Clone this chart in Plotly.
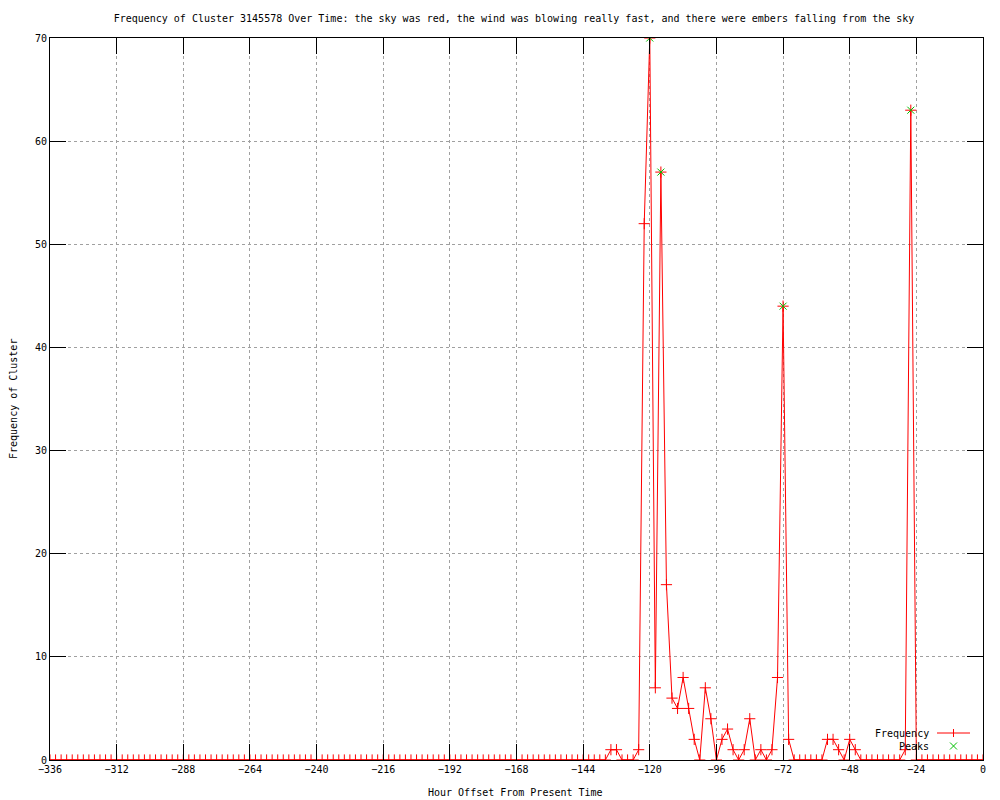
import plotly.graph_objects as go

# Hour offsets (every 2 hours from -336 to 0)
hours = list(range(-336, 1, 2))

# Non-zero frequency readings from the chart (hour -> value); all other hours are 0
readings_hours = [-134, -132, -124, -122, -120, -118, -116, -114, -112, -110, -108, -106, -104,
                  -100, -98, -94, -92, -90, -86, -84, -80, -76, -74, -72, -70,
                  -56, -54, -52, -48, -46, -28, -26]
readings_values = [1, 1, 1, 52, 70, 7, 57, 17, 6, 5, 8, 5, 2,
                   7, 4, 2, 3, 1, 1, 4, 1, 1, 8, 44, 2,
                   2, 2, 1, 2, 1, 1, 63]
lookup = dict(zip(readings_hours, readings_values))
frequency = [lookup.get(h, 0) for h in hours]

# Detected peaks
peak_hours = [-120, -116, -72, -26]
peak_values = [70, 57, 44, 63]

x_ticks = list(range(-336, 1, 24))
y_ticks = list(range(0, 71, 10))

FONT = "DejaVu Sans Mono"

# The page body has an 8px margin; figure is sized to fit inside the 1000x800 window.
W, H = 992, 792
OFF = 8
L, R, T, B = 50 - OFF, 17, 38 - OFF, 40
PW = W - L - R   # 933
PH = H - T - B   # 722


def px_x(p):
    return (p - 50) / PW


def px_y(p):
    return (760 - p) / PH


fig = go.Figure()
fig.add_trace(go.Scatter(
    x=hours, y=frequency, mode="lines+markers", name="Frequency",
    line=dict(color="#ff0000", width=1),
    marker=dict(symbol="cross-thin", size=8, line=dict(color="#ff0000", width=1)),
    showlegend=False,
))
fig.add_trace(go.Scatter(
    x=peak_hours, y=peak_values, mode="markers", name="Peaks",
    marker=dict(symbol="x-thin", size=7, line=dict(color="#00c000", width=1)),
    showlegend=False,
))

axis_common = dict(
    showline=True, linecolor="black", linewidth=1, mirror="ticks",
    ticks="inside", ticklen=16, tickcolor="black", tickwidth=1,
    showgrid=True, gridcolor="#a0a0a0", griddash="dot", gridwidth=1,
    zeroline=False, tickfont=dict(family=FONT, size=10, color="black"),
)

fig.update_xaxes(range=[-336, 0], tickmode="array", tickvals=x_ticks, **axis_common)
fig.update_yaxes(range=[0, 70], tickmode="array", tickvals=y_ticks, **axis_common)

fig.update_layout(
    width=W, height=H, autosize=False,
    margin=dict(l=L, r=R, t=T, b=B, autoexpand=False),
    plot_bgcolor="white", paper_bgcolor="white",
    title=dict(
        text="Frequency of Cluster 3145578 Over Time: the sky was red, the wind was blowing really fast, and there were embers falling from the sky",
        x=(514 - OFF) / W, xanchor="center", y=1 - (18 - OFF) / H, yanchor="middle",
        font=dict(family=FONT, size=10, color="black"),
    ),
    font=dict(family=FONT, size=10, color="black"),
)

# Axis titles
fig.add_annotation(text="Hour Offset From Present Time", xref="paper", yref="paper",
                   x=px_x(515), y=px_y(793), xanchor="center", yanchor="middle", showarrow=False,
                   font=dict(family=FONT, size=10, color="black"))
fig.add_annotation(text="Frequency of Cluster", xref="paper", yref="paper",
                   x=px_x(13), y=0.5, xanchor="center", yanchor="middle", textangle=-90,
                   showarrow=False, font=dict(family=FONT, size=10, color="black"))

# Legend (gnuplot-style: text then key sample)
fig.add_annotation(text="Frequency", xref="paper", yref="paper",
                   x=px_x(931), y=px_y(733), xanchor="right", yanchor="middle",
                   showarrow=False, font=dict(family=FONT, size=10, color="black"))
fig.add_annotation(text="Peaks", xref="paper", yref="paper",
                   x=px_x(931), y=px_y(746), xanchor="right", yanchor="middle",
                   showarrow=False, font=dict(family=FONT, size=10, color="black"))
fig.add_shape(type="line", xref="paper", yref="paper",
              x0=px_x(937), x1=px_x(970), y0=px_y(733), y1=px_y(733),
              line=dict(color="#ff0000", width=1))
fig.add_shape(type="line", xref="paper", yref="paper",
              x0=px_x(953.5), x1=px_x(953.5), y0=px_y(729), y1=px_y(737),
              line=dict(color="#ff0000", width=1))
fig.add_shape(type="line", xref="paper", yref="paper",
              x0=px_x(950), x1=px_x(957), y0=px_y(742.5), y1=px_y(749.5),
              line=dict(color="#00c000", width=1))
fig.add_shape(type="line", xref="paper", yref="paper",
              x0=px_x(950), x1=px_x(957), y0=px_y(749.5), y1=px_y(742.5),
              line=dict(color="#00c000", width=1))

fig.write_html("out.html")
